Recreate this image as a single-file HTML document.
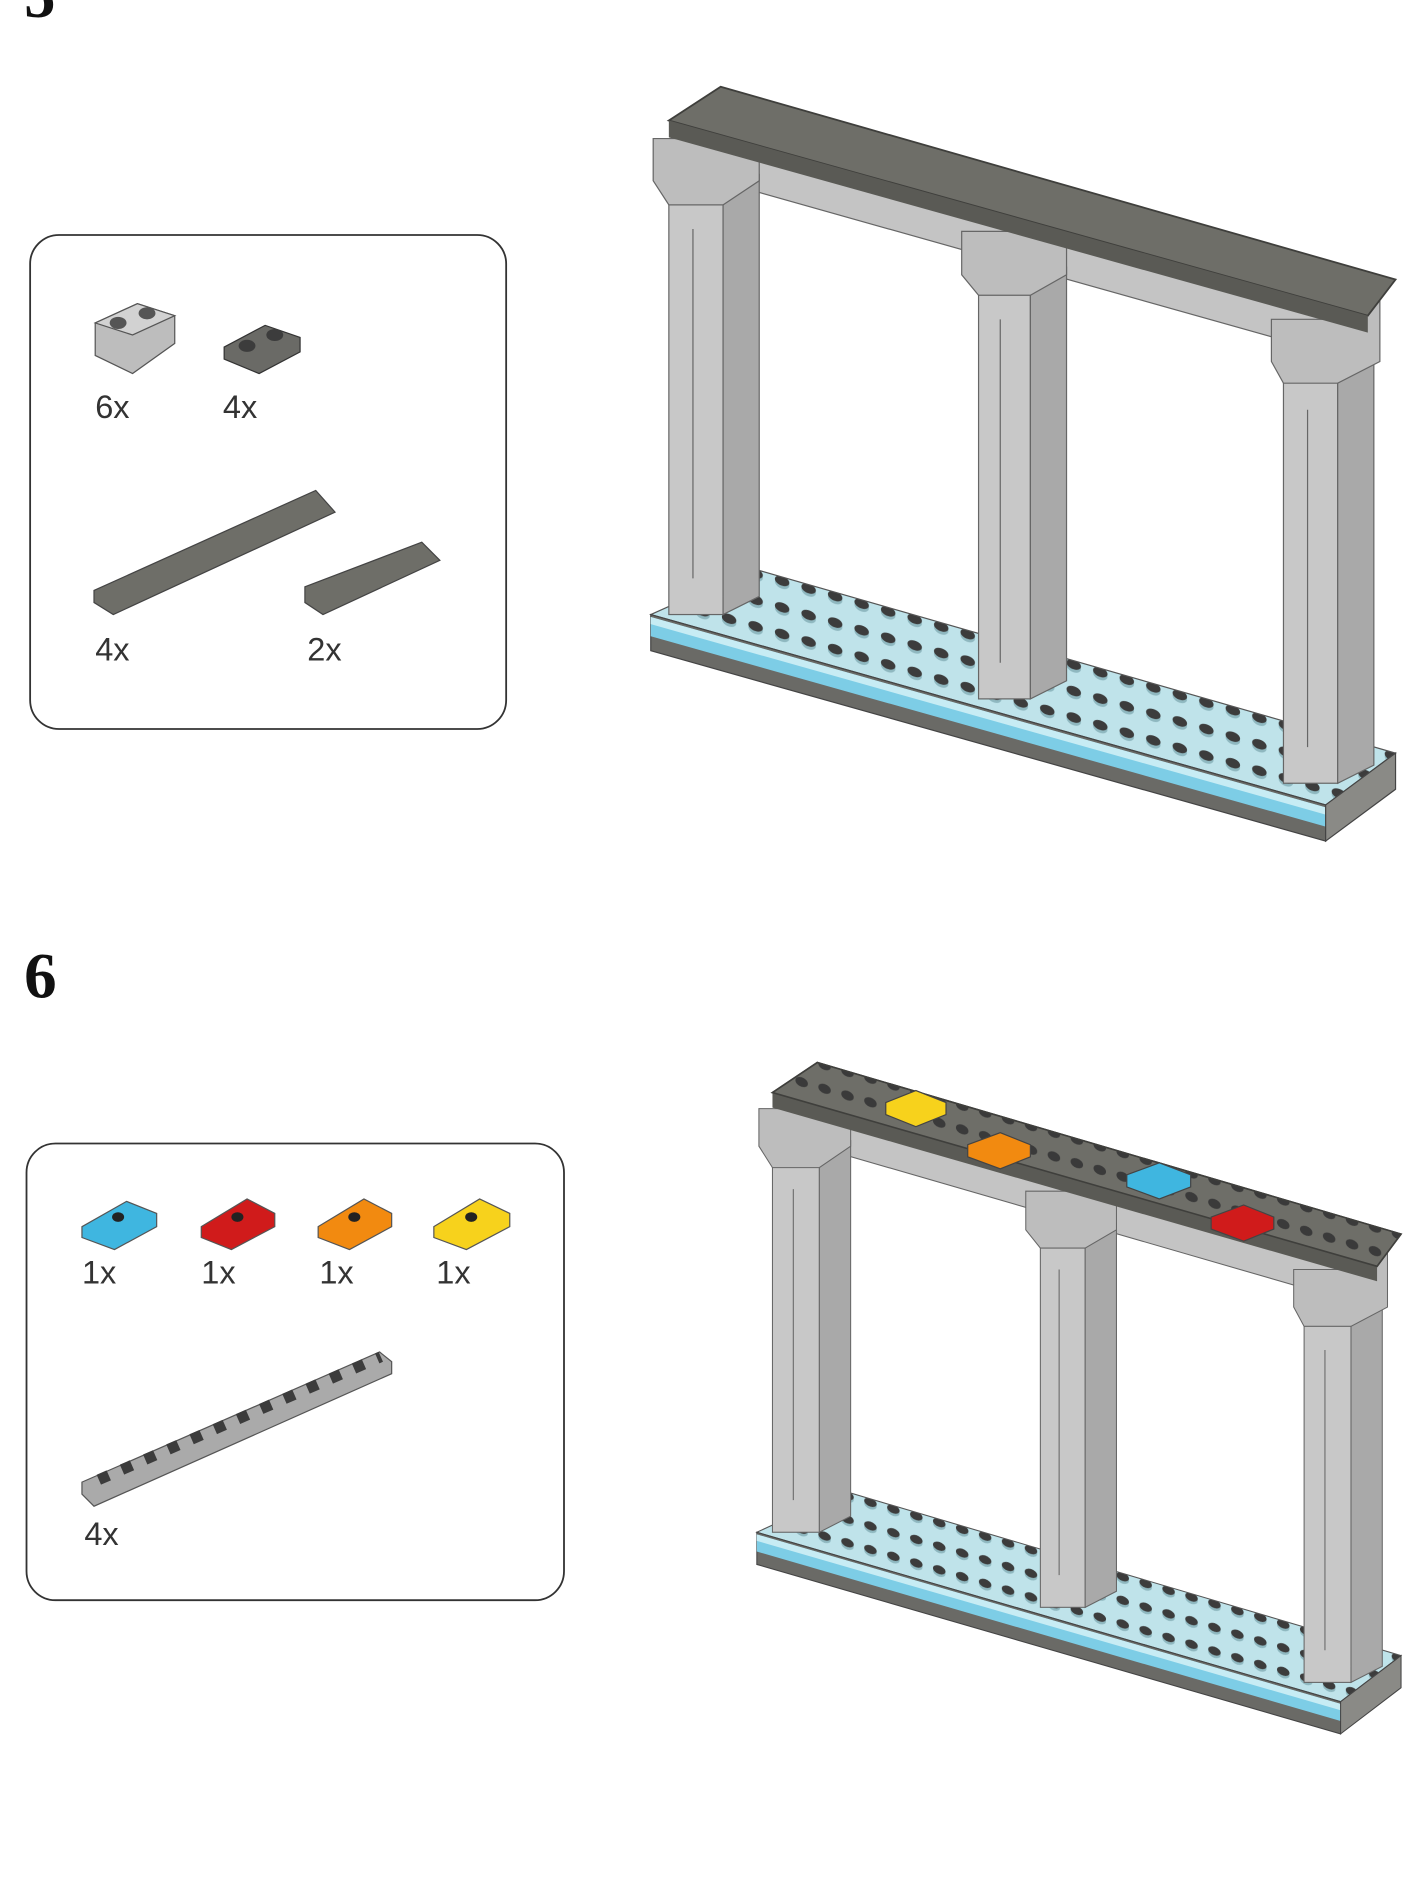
<!DOCTYPE html>
<html><head><meta charset="utf-8"><style>
html,body{margin:0;padding:0;background:#fff;}
svg{display:block;}
text{font-family:"Liberation Sans",sans-serif;fill:#333;}
</style></head><body>
<svg width="1410" height="1887" viewBox="0 0 1170 1566" preserveAspectRatio="none" xmlns="http://www.w3.org/2000/svg">
<defs>
<pattern id="studs" width="22" height="22" patternUnits="userSpaceOnUse" patternTransform="skewY(16)">
<rect width="22" height="22" fill="#bfe3ea"/>
<ellipse cx="11" cy="12" rx="6" ry="4.5" fill="#8fb8c0"/>
<ellipse cx="11" cy="10" rx="6" ry="4" fill="#3c3c3c"/>
</pattern>
<pattern id="studs2" width="22" height="22" patternUnits="userSpaceOnUse" patternTransform="skewY(16)">
<rect width="22" height="22" fill="#6e6e68"/>
<ellipse cx="11" cy="11" rx="6" ry="4.5" fill="#3a3a3a"/>
</pattern>
<g id="frame">
  <polygon points="540,510 625,472 1158,625 1100,668" fill="url(#studs)" stroke="#555" stroke-width="1"/>
  <polygon points="540,510 1100,668 1100,698 540,540" fill="#6a6a66" stroke="#444" stroke-width="1"/>
  <polygon points="540,512 1100,670 1100,686 540,528" fill="#7dcde6"/>
  <polygon points="540,512 1100,670 1100,676 540,518" fill="#c7ecf4"/>
  <polygon points="1100,668 1158,625 1158,655 1100,698" fill="#8a8a86" stroke="#444" stroke-width="1"/>
  <polygon points="560,108 600,85 1150,240 1110,270 1110,295 560,140" fill="#c4c4c4" stroke="#666" stroke-width="1"/>
  <g stroke="#666" stroke-width="1">
    <rect x="555" y="160" width="45" height="350" fill="#c8c8c8"/>
    <polygon points="600,160 630,145 630,495 600,510" fill="#a9a9a9"/>
    <polygon points="542,115 600,115 630,100 630,150 600,170 555,170 542,150" fill="#bdbdbd"/>
    <line x1="575" y1="190" x2="575" y2="480"/>
    <rect x="812" y="238" width="43" height="342" fill="#c8c8c8"/>
    <polygon points="855,238 885,222 885,565 855,580" fill="#a9a9a9"/>
    <polygon points="798,192 855,192 885,178 885,228 855,245 812,245 798,228" fill="#bdbdbd"/>
    <line x1="830" y1="265" x2="830" y2="550"/>
    <rect x="1065" y="310" width="45" height="340" fill="#c8c8c8"/>
    <polygon points="1110,310 1140,295 1140,635 1110,650" fill="#a9a9a9"/>
    <polygon points="1055,265 1110,265 1145,250 1145,300 1110,318 1065,318 1055,300" fill="#bdbdbd"/>
    <line x1="1085" y1="340" x2="1085" y2="620"/>
  </g>
  <polygon points="555,100 598,72 1158,232 1135,262" fill="#6e6e68" stroke="#3f3f3c" stroke-width="1.5"/>
  <polygon points="555,100 1135,262 1135,276 555,114" fill="#5a5a55"/>
</g>
</defs>

<text x="20" y="14" font-weight="bold" font-size="52" style="font-family:'Liberation Serif',serif;fill:#111">5</text>

<rect x="25" y="195" width="395" height="410" rx="24" fill="#fff" stroke="#333" stroke-width="1.5"/>
<polygon points="79,268 114,252 145,262 145,285 110,310 79,295" fill="#bdbdbd" stroke="#555"/>
<polygon points="79,268 114,252 145,262 110,278" fill="#d2d2d2" stroke="#555"/>
<ellipse cx="98" cy="268" rx="7" ry="5" fill="#555"/><ellipse cx="122" cy="260" rx="7" ry="5" fill="#555"/>
<polygon points="186,288 220,270 249,280 249,292 215,310 186,298" fill="#6a6a66" stroke="#333"/>
<ellipse cx="205" cy="287" rx="7" ry="5" fill="#3c3c3c"/><ellipse cx="228" cy="278" rx="7" ry="5" fill="#3c3c3c"/>
<text x="79" y="347" font-size="27">6x</text>
<text x="185" y="347" font-size="27">4x</text>
<polygon points="78,490 262,407 278,425 94,510 78,500" fill="#6e6e68" stroke="#444"/>
<polygon points="253,487 350,450 365,465 268,510 253,500" fill="#6e6e68" stroke="#444"/>
<text x="79" y="548" font-size="27">4x</text>
<text x="255" y="548" font-size="27">2x</text>

<use href="#frame"/>

<text x="20" y="828" font-weight="bold" font-size="54" style="font-family:'Liberation Serif',serif;fill:#111">6</text>

<rect x="22" y="949" width="446" height="379" rx="24" fill="#fff" stroke="#333" stroke-width="1.5"/>
<g stroke="#555">
<polygon points="68,1018 105,997 130,1007 130,1018 95,1037 68,1027" fill="#3fb6e0"/>
<polygon points="167,1018 205,995 228,1007 228,1018 192,1037 167,1027" fill="#d01b1b"/>
<polygon points="264,1018 302,995 325,1007 325,1018 290,1037 264,1027" fill="#f28a10"/>
<polygon points="360,1018 398,995 423,1007 423,1018 387,1037 360,1027" fill="#f7d21c"/>
</g>
<ellipse cx="98" cy="1010" rx="5" ry="4" fill="#222"/><ellipse cx="197" cy="1010" rx="5" ry="4" fill="#222"/>
<ellipse cx="294" cy="1010" rx="5" ry="4" fill="#222"/><ellipse cx="391" cy="1010" rx="5" ry="4" fill="#222"/>
<text x="68" y="1065" font-size="27">1x</text>
<text x="167" y="1065" font-size="27">1x</text>
<text x="265" y="1065" font-size="27">1x</text>
<text x="362" y="1065" font-size="27">1x</text>
<polygon points="68,1230 315,1122 325,1130 325,1140 78,1250 68,1240" fill="#aaaaaa" stroke="#555"/>
<line x1="82" y1="1228" x2="316" y2="1126" stroke="#3c3c3c" stroke-width="9" stroke-dasharray="9 12"/>
<text x="70" y="1282" font-size="27">4x</text>

<g transform="translate(628,880) scale(0.865,0.89) translate(-540,-70)">
<use href="#frame"/>
<polygon points="555,100 598,72 1158,232 1135,262" fill="url(#studs2)" stroke="#3f3f3c" stroke-width="1.5"/>
</g>
<g stroke="#444">
<polygon points="735,915 760,905 785,915 785,925 760,935 735,925" fill="#f7d21c"/>
<polygon points="803,950 830,940 855,950 855,960 830,970 803,960" fill="#f28a10"/>
<polygon points="935,975 962,965 988,975 988,985 962,995 935,985" fill="#3fb6e0"/>
<polygon points="1005,1010 1032,1000 1057,1010 1057,1020 1032,1030 1005,1020" fill="#d01b1b"/>
</g>
</svg>
</body></html>
